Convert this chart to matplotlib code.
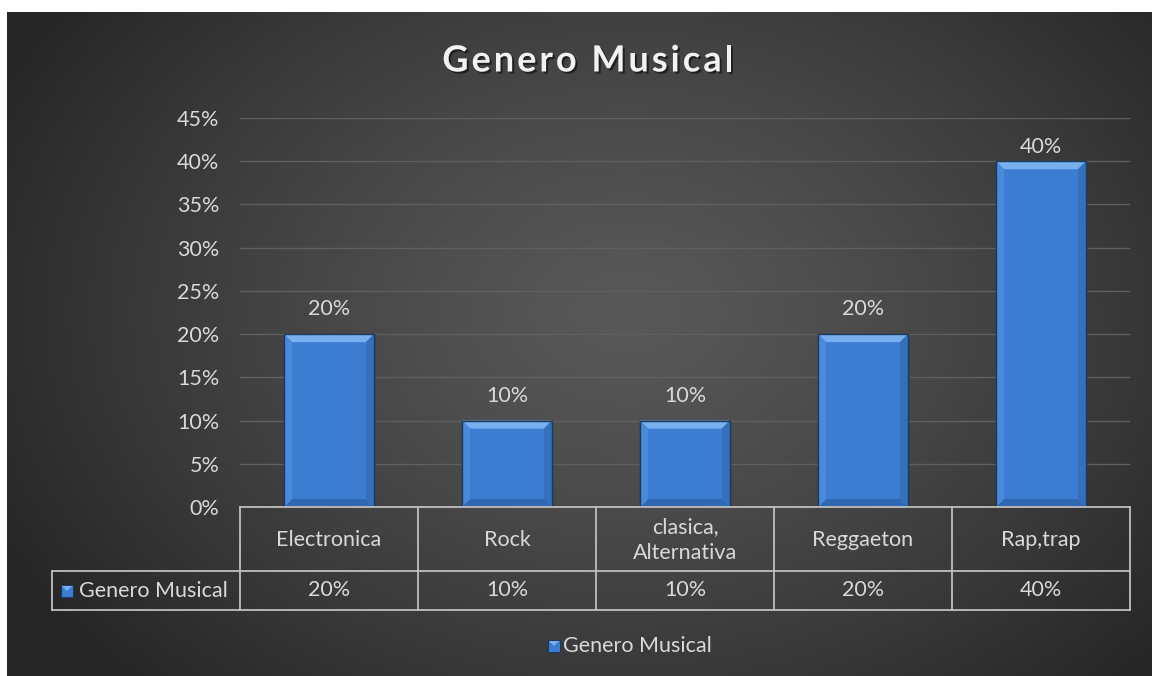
import numpy as np
import matplotlib
matplotlib.use("Agg")
import matplotlib.pyplot as plt
from matplotlib.patches import Polygon, Rectangle
import matplotlib.patheffects as pe

# ---- data ----
categories = ["Electronica", "Rock", "clasica,\nAlternativa", "Reggaeton", "Rap,trap"]
values = [0.20, 0.10, 0.10, 0.20, 0.40]
series_name = "Genero Musical"
title = "Genero Musical"
yticks = [0.0, 0.05, 0.10, 0.15, 0.20, 0.25, 0.30, 0.35, 0.40, 0.45]
label_offsets_px = [25, 25, 25, 25, 14]

W, H = 1152, 676
plt.rcParams['font.family'] = ['Lato', 'DejaVu Sans']
TXT = '#d9d9d9'
BLUE = '#3c7dd2'
FS = 15.5

fig = plt.figure(figsize=(W / 100, H / 100), dpi=100, facecolor='white')

def fx(px):
    return px / W

def fy(py):
    return 1 - py / H

# background radial gradient
bg = fig.add_axes([fx(7), 0, 1 - fx(7), 1 - 12 / H])
bg.set_axis_off()
gy, gx = np.mgrid[0:664, 0:1145]
cx, cy = 620, 300
r = np.sqrt(((gx - cx) / 700.0) ** 2 + ((gy - cy) / 520.0) ** 2)
r = np.clip(r, 0, 1)
v = 0.345 - (0.345 - 0.15) * r ** 1.3
img = np.dstack([v, v, v])
bg.imshow(img, aspect='auto', extent=[0, 1, 0, 1], interpolation='bilinear')
bg.set_xlim(0, 1)
bg.set_ylim(0, 1)

# main axes
x0, x1 = 240, 1130
y_top, y_bot = 118, 507
ax = fig.add_axes([fx(x0), fy(y_bot), fx(x1) - fx(x0), (y_bot - y_top) / H])
ax.patch.set_alpha(0)
n = len(categories)
ax.set_xlim(-0.5, n - 0.5)
ax.set_ylim(0, 0.45)
ax.set_yticks(yticks)
ax.set_yticklabels([f"{int(round(t * 100))}%" for t in yticks], color=TXT, fontsize=FS)
ax.tick_params(axis='y', length=0, pad=15)
ax.set_xticks([])
for s in ax.spines.values():
    s.set_visible(False)
ax.grid(axis='y', color='#5f5f5f', linewidth=1)
ax.set_axisbelow(True)

xs = np.arange(n)
bars = ax.bar(xs, values, width=0.505, color=BLUE, edgecolor='#1e3a5e', linewidth=1.0, zorder=2)

# bevel decoration
fig.canvas.draw()
renderer = fig.canvas.get_renderer()
inv = ax.transData.inverted()
bev = 8
for b, off in zip(bars, label_offsets_px):
    bx, by = b.get_x(), b.get_y()
    bw, bh = b.get_width(), b.get_height()
    (px0, py0) = ax.transData.transform((bx, by))
    (px1, py1) = ax.transData.transform((bx + bw, by + bh))
    def d(p):
        return inv.transform(p)
    outer = [(px0, py0), (px1, py0), (px1, py1), (px0, py1)]
    inner = [(px0 + bev, py0 + bev), (px1 - bev, py0 + bev), (px1 - bev, py1 - bev), (px0 + bev, py1 - bev)]
    faces = [
        ([outer[3], outer[2], inner[2], inner[3]], '#78b0ef'),  # top
        ([outer[0], outer[1], inner[1], inner[0]], '#2f68b0'),  # bottom
        ([outer[0], outer[3], inner[3], inner[0]], '#4a8ada'),  # left
        ([outer[1], outer[2], inner[2], inner[1]], '#3570bb'),  # right
    ]
    for pts, c in faces:
        ax.add_patch(Polygon([d(p) for p in pts], closed=True, facecolor=c,
                             edgecolor='none', zorder=3))
    ax.add_patch(Rectangle((bx, by), bw, bh, facecolor='none', edgecolor='#1e3a5e',
                           linewidth=1.0, zorder=4))
    ax.annotate(f"{int(round(b.get_height() * 100))}%", (bx + bw / 2, by + bh),
                xytext=(0, off), textcoords='offset pixels', ha='center', va='center',
                color=TXT, fontsize=FS)

# title with letter spacing
TFS = 26
spacing = 3.0
widths = []
for k in range(1, len(title) + 1):
    t = fig.text(0, 0, title[:k], fontsize=TFS, fontweight='bold')
    widths.append(t.get_window_extent(renderer).width)
    t.remove()
total = widths[-1] + spacing * (len(title) - 1)
start = 588 - total / 2
shadow = [pe.withSimplePatchShadow(offset=(1.5, -1.5), shadow_rgbFace='black', alpha=0.5)]
for k, ch in enumerate(title):
    prev = widths[k - 1] if k > 0 else 0.0
    fig.text(fx(start + prev + spacing * k), fy(61), ch, ha='left', va='center',
             color='#f2f2f2', fontsize=TFS, fontweight='bold', path_effects=shadow)

# data table lines
LC = '#bfbfbf'
lw = 1.3
r0, r1, r2 = 507, 571, 610
lx = 52
colw = (x1 - x0) / n
def hline(y, xa, xb):
    fig.add_artist(plt.Line2D([fx(xa), fx(xb)], [fy(y), fy(y)], color=LC, lw=lw))
def vline(x, ya, yb):
    fig.add_artist(plt.Line2D([fx(x), fx(x)], [fy(ya), fy(yb)], color=LC, lw=lw))
hline(r0, x0, x1)
hline(r1, lx, x1)
hline(r2, lx, x1)
vline(lx, r1, r2)
for i in range(n + 1):
    vline(x0 + i * colw, r0, r2)
for i, (c, v) in enumerate(zip(categories, values)):
    cxp = x0 + (i + 0.5) * colw
    fig.text(fx(cxp), fy((r0 + r1) / 2 + 1), c, ha='center', va='center', color=TXT,
             fontsize=FS, linespacing=1.4)
    fig.text(fx(cxp), fy((r1 + r2) / 2), f"{int(round(v * 100))}%", ha='center',
             va='center', color=TXT, fontsize=FS)

def legend_key(xp, yp):
    s = 12
    fig.add_artist(Rectangle((fx(xp), fy(yp + s / 2)), s / W, s / H, facecolor=BLUE,
                             edgecolor='#1e3a5e', lw=0.8, transform=fig.transFigure))
    fig.add_artist(Polygon([(fx(xp + 1), fy(yp - s / 2 + 1)), (fx(xp + s - 1), fy(yp - s / 2 + 1)),
                            (fx(xp + s / 2), fy(yp))], closed=True, facecolor='#78b0ef',
                           edgecolor='none', transform=fig.transFigure))

legend_key(61, 591)
fig.text(fx(79), fy(591), series_name, ha='left', va='center', color=TXT, fontsize=FS)

legend_key(548, 646)
fig.text(fx(563), fy(646), series_name, ha='left', va='center', color=TXT, fontsize=FS)

fig.savefig("out.png", dpi=100, facecolor='white')
